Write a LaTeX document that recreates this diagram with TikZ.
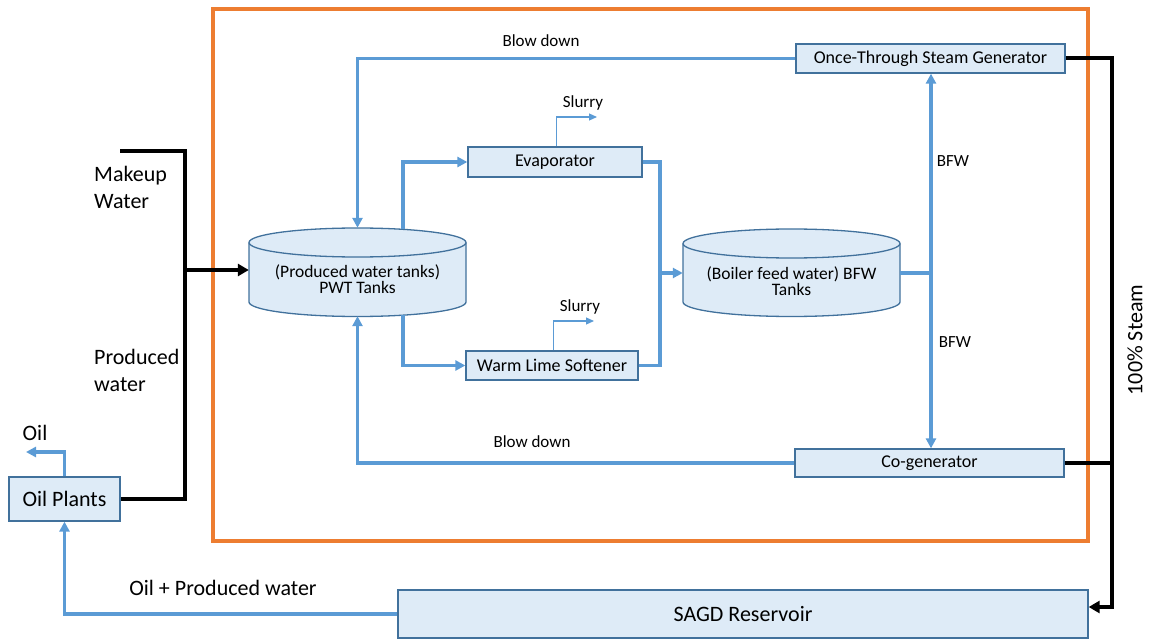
\documentclass[tikz,border=0pt]{standalone}
\usepackage{fontspec}
\setmainfont{Carlito}
\usetikzlibrary{arrows.meta}

\definecolor{flowblue}{HTML}{5B9BD5}
\definecolor{boxedge}{HTML}{41719C}
\definecolor{boxfill}{HTML}{DEEBF7}
\definecolor{frameorange}{HTML}{ED7D31}

\begin{document}
\begin{tikzpicture}[x=1pt,y=1pt,
  box/.style={draw=boxedge, fill=boxfill, line width=1.3pt, inner sep=0pt,
    font=\fontsize{18}{21}\selectfont},
  bigbox/.style={box, font=\fontsize{22}{26}\selectfont},
  tankbody/.style={draw=boxedge, fill=boxfill, line width=1.3pt},
  tankzone/.style={minimum width=217pt, minimum height=88pt, inner sep=0pt},
  tanktext/.style={align=center, font=\fontsize{17.5}{17.5}\selectfont, inner sep=0pt},
  flowline/.style={draw=flowblue, line width=3.3pt},
  flow/.style={flowline, -{Triangle[length=10pt,width=10pt]}},
  thinflow/.style={draw=flowblue, line width=1.1pt, -{Triangle[length=8pt,width=7pt]}},
  steamline/.style={draw=black, line width=4pt},
  steamflow/.style={steamline, -{Triangle[length=11pt,width=12pt]}},
  lbl/.style={font=\fontsize{17}{20}\selectfont, inner sep=0pt},
  biglbl/.style={font=\fontsize{22}{27}\selectfont, inner sep=0pt, align=left}
]
\useasboundingbox (0,0) rectangle (1149,-639);

% plant boundary
\draw[frameorange, line width=4pt] (213,-9) rectangle (1088,-541);

% process units
\node[box, minimum width=269pt, minimum height=29pt] (otsg) at (930.5,-58.5) {Once-Through Steam Generator};
\node[box, minimum width=174pt, minimum height=30pt] (evap) at (555,-162) {Evaporator};
\node[box, minimum width=172pt, minimum height=29pt] (wls) at (552,-365.5) {Warm Lime Softener};
\node[box, minimum width=269pt, minimum height=28pt] (cogen) at (929.5,-463) {Co-generator};
\node[bigbox, minimum width=690pt, minimum height=48pt] (sagd) at (743,-614) {SAGD Reservoir};
\node[bigbox, minimum width=111pt, minimum height=44pt] (oilp) at (64.5,-499) {Oil Plants};

% produced water tanks
\draw[tankbody] (249,-242.5) -- (249,-302)
  arc[start angle=180, end angle=360, x radius=108.5pt, y radius=14.5pt]
  -- (466,-242.5)
  arc[start angle=0, end angle=180, x radius=108.5pt, y radius=14.5pt] -- cycle;
\draw[draw=boxedge, line width=1.3pt] (249,-242.5)
  arc[start angle=180, end angle=360, x radius=108.5pt, y radius=14.5pt];
\node[tankzone] (pwt) at (357.5,-272) {};
\node[tanktext] (pwtlbl) at (357.5,-279) {(Produced water tanks)\\[-1pt]PWT Tanks};

% boiler feed water tanks
\draw[tankbody] (683,-243.5) -- (683,-302)
  arc[start angle=180, end angle=360, x radius=108.5pt, y radius=14.5pt]
  -- (900,-243.5)
  arc[start angle=0, end angle=180, x radius=108.5pt, y radius=14.5pt] -- cycle;
\draw[draw=boxedge, line width=1.3pt] (683,-243.5)
  arc[start angle=180, end angle=360, x radius=108.5pt, y radius=14.5pt];
\node[tankzone] (bfw) at (791.5,-273) {};
\node[tanktext] (bfwlbl) at (791.5,-281) {(Boiler feed water) BFW\\[-1pt]Tanks};

% junction points
\coordinate (pwtne) at (403,-229.5);
\coordinate (pwtse) at (403,-315);
\coordinate (mix) at (660,-273);
\coordinate (split) at (931,-273);
\coordinate (slurA) at (597,-117);
\coordinate (slurB) at (594,-321);
\coordinate (oilout) at (26,-452);
\coordinate (makeup) at (120,-151);
\coordinate (feed) at (185,-270);
\coordinate (steamdn) at (1112,-607);

% blow down returns
\draw[flow] (otsg.west) -| (pwt.north);
\draw[flow] (cogen.west) -| (pwt.south);

% treatment trains
\draw[flow] (pwtne) |- (evap.west);
\draw[flow] (pwtse) |- (wls.west);
\draw[flowline] (evap.east) -| (mix);
\draw[flowline] (wls.east) -| (mix);
\draw[flow] (mix) -- (bfw.west);

% slurry outlets
\draw[thinflow] ([xshift=1.5pt]evap.north) |- (slurA);
\draw[thinflow] ([xshift=1.5pt]wls.north) |- (slurB);

% boiler feed water distribution
\draw[flowline] (bfw.east) -- (split);
\draw[flow] (split) -- (split |- otsg.south);
\draw[flow] (split) -- (split |- cogen.north);

% steam to reservoir
\draw[steamflow] (otsg.east) -| (steamdn) -- (steamdn -| sagd.east);
\draw[steamline] (cogen.east) -- (cogen.east -| steamdn);

% water supply to the tanks
\draw[steamline, line join=miter] (makeup) -| (feed) |- (oilp.east);
\draw[steamflow] (feed) -- (pwt.west |- feed);

% oil plant streams
\draw[flow] (oilp.north) |- (oilout);
\draw[flow] (sagd.west) -| (oilp.south);

% stream labels
\node[lbl] (bd1) at (541,-41) {Blow down};
\node[lbl] (bd2) at (532,-442) {Blow down};
\node[lbl] (sl1) at (583,-103) {Slurry};
\node[lbl] (sl2) at (580,-307) {Slurry};
\node[lbl] (bfw1) at (953,-161) {BFW};
\node[lbl] (bfw2) at (955,-342) {BFW};
\node[biglbl, anchor=west] (mkw) at (94,-187) {Makeup\\Water};
\node[biglbl, anchor=west] (pdw) at (94,-370) {Produced\\water};
\node[biglbl] (oil) at (35,-433) {Oil};
\node[biglbl] (opw) at (223,-588) {Oil + Produced water};
\node[biglbl, rotate=90] (stm) at (1135,-340) {100\% Steam};
\end{tikzpicture}
\end{document}
